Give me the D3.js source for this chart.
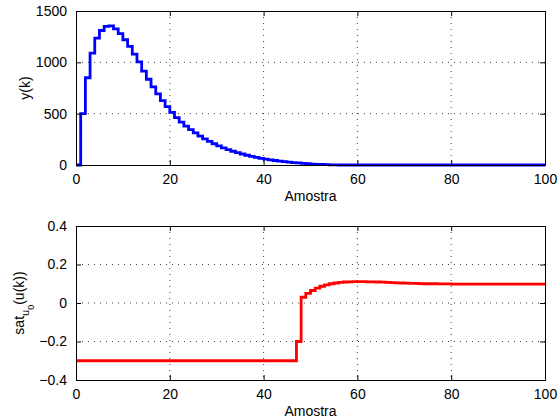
<!DOCTYPE html>
<html>
<head>
<meta charset="utf-8">
<script src="https://cdn.jsdelivr.net/npm/d3@7"></script>
<style>
  body { margin: 0; background: #fff; }
  text { font-family: "Liberation Sans", Arial, sans-serif; }
</style>
</head>
<body>
<div id="chart"></div>
<script>
// samples k = 0..100
const yk = [
  0, 500, 850, 1090, 1235, 1310, 1350, 1355, 1325, 1280,
  1220, 1155, 1080, 1005, 915, 835, 760, 692, 628, 568,
  512, 462, 418, 378, 345, 312, 282, 255, 230, 207,
  186, 167, 150, 134, 120, 107, 95, 84, 74, 65,
  57, 50, 44, 38, 33, 28, 24, 20, 16, 12,
  9, 7, 5, 3, 2, 1, 0, 0, 0, 0,
  0, 0, 0, 0, 0, 0, 0, 0, 0, 0,
  0, 0, 0, 0, 0, 0, 0, 0, 0, 0,
  0, 0, 0, 0, 0, 0, 0, 0, 0, 0,
  0, 0, 0, 0, 0, 0, 0, 0, 0, 0,
  0
];
const satU = [
  -0.3, -0.3, -0.3, -0.3, -0.3, -0.3, -0.3, -0.3, -0.3, -0.3,
  -0.3, -0.3, -0.3, -0.3, -0.3, -0.3, -0.3, -0.3, -0.3, -0.3,
  -0.3, -0.3, -0.3, -0.3, -0.3, -0.3, -0.3, -0.3, -0.3, -0.3,
  -0.3, -0.3, -0.3, -0.3, -0.3, -0.3, -0.3, -0.3, -0.3, -0.3,
  -0.3, -0.3, -0.3, -0.3, -0.3, -0.3, -0.3, -0.2, 0.03, 0.05,
  0.065, 0.077, 0.087, 0.094, 0.1, 0.104, 0.107, 0.109, 0.11, 0.111,
  0.111, 0.111, 0.11, 0.11, 0.109, 0.108, 0.107, 0.106, 0.105, 0.104,
  0.103, 0.102, 0.102, 0.101, 0.1, 0.1, 0.1, 0.099, 0.099, 0.099,
  0.098, 0.098, 0.098, 0.098, 0.098, 0.098, 0.098, 0.098, 0.098, 0.098,
  0.098, 0.098, 0.098, 0.098, 0.098, 0.098, 0.098, 0.098, 0.098, 0.098,
  0.098
];
const xTicks = [0, 20, 40, 60, 80, 100];
const yTicksTop = [0, 500, 1000, 1500];
const yTicksBot = [-0.4, -0.2, 0, 0.2, 0.4];

const width = 560, height = 419;
const left = 76, right = 545;

const svg = d3.select('#chart').append('svg')
  .attr('width', width)
  .attr('height', height);

svg.append('rect').attr('width', width).attr('height', height).attr('fill', '#fff');

function panel(top, bottom, yDomain, yTicks, values, color, yFmt) {
  const x = d3.scaleLinear().domain([0, 100]).range([left, right]);
  const y = d3.scaleLinear().domain(yDomain).range([bottom, top]);
  const g = svg.append('g');

  // dotted grid
  g.selectAll('.gx')
    .data(xTicks.slice(1, -1))
    .enter().append('line')
    .attr('x1', d => x(d)).attr('x2', d => x(d))
    .attr('y1', top).attr('y2', bottom)
    .attr('stroke', '#444').attr('stroke-width', 1)
    .attr('stroke-dasharray', '1,5');
  g.selectAll('.gy')
    .data(yTicks.slice(1, -1))
    .enter().append('line')
    .attr('x1', left).attr('x2', right)
    .attr('y1', d => y(d)).attr('y2', d => y(d))
    .attr('stroke', '#444').attr('stroke-width', 1)
    .attr('stroke-dasharray', '1,5');

  const line = d3.line()
    .x((d, i) => x(i))
    .y(d => y(d))
    .curve(d3.curveStepAfter);

  g.append('path')
    .datum(values)
    .attr('d', line)
    .attr('fill', 'none')
    .attr('stroke', color)
    .attr('stroke-width', 2.8);

  // axes with inward ticks on all sides
  const bottomAx = d3.axisBottom(x).tickValues(xTicks).tickSize(-5).tickPadding(9).tickFormat(d3.format('d'));
  const topAx = d3.axisTop(x).tickValues(xTicks).tickSize(-5).tickFormat('');
  const leftAx = d3.axisLeft(y).tickValues(yTicks).tickSize(-5).tickPadding(9).tickFormat(yFmt);
  const rightAx = d3.axisRight(y).tickValues(yTicks).tickSize(-5).tickFormat('');

  const axes = [
    [bottomAx, `translate(0,${bottom})`],
    [topAx, `translate(0,${top})`],
    [leftAx, `translate(${left},0)`],
    [rightAx, `translate(${right},0)`]
  ];
  axes.forEach(([ax, tr]) => {
    const a = g.append('g').attr('transform', tr).call(ax);
    a.select('.domain').attr('stroke', '#000').attr('stroke-width', 1);
    a.selectAll('.tick line').attr('stroke', '#000');
    a.selectAll('text').attr('fill', '#000').style('font-size', '14px')
      .style('font-family', '"Liberation Sans", Arial, sans-serif');
  });

  g.append('text')
    .attr('x', (left + right) / 2)
    .attr('y', bottom + 36)
    .attr('text-anchor', 'middle')
    .style('font-size', '14px')
    .text('Amostra');

  return g;
}

const gTop = panel(11, 165, [0, 1500], yTicksTop, yk, '#0000ff', d3.format('d'));
const gBot = panel(226, 380, [-0.4, 0.4], yTicksBot, satU, '#ff0000',
  d => d === 0 ? '0' : d3.format('.1f')(d).replace('-', '\u2212'));

gTop.append('text')
  .attr('transform', 'translate(30,88) rotate(-90)')
  .attr('text-anchor', 'middle')
  .style('font-size', '14px')
  .text('y(k)');

const lbl = gBot.append('text')
  .attr('transform', 'translate(24,303) rotate(-90)')
  .attr('text-anchor', 'middle')
  .style('font-size', '14px');
lbl.append('tspan').text('sat');
lbl.append('tspan').attr('dy', 5).style('font-size', '11px').text('u');
lbl.append('tspan').attr('dy', 5).style('font-size', '9px').text('0');
lbl.append('tspan').attr('dy', -10).text('(u(k))');
</script>
</body>
</html>
